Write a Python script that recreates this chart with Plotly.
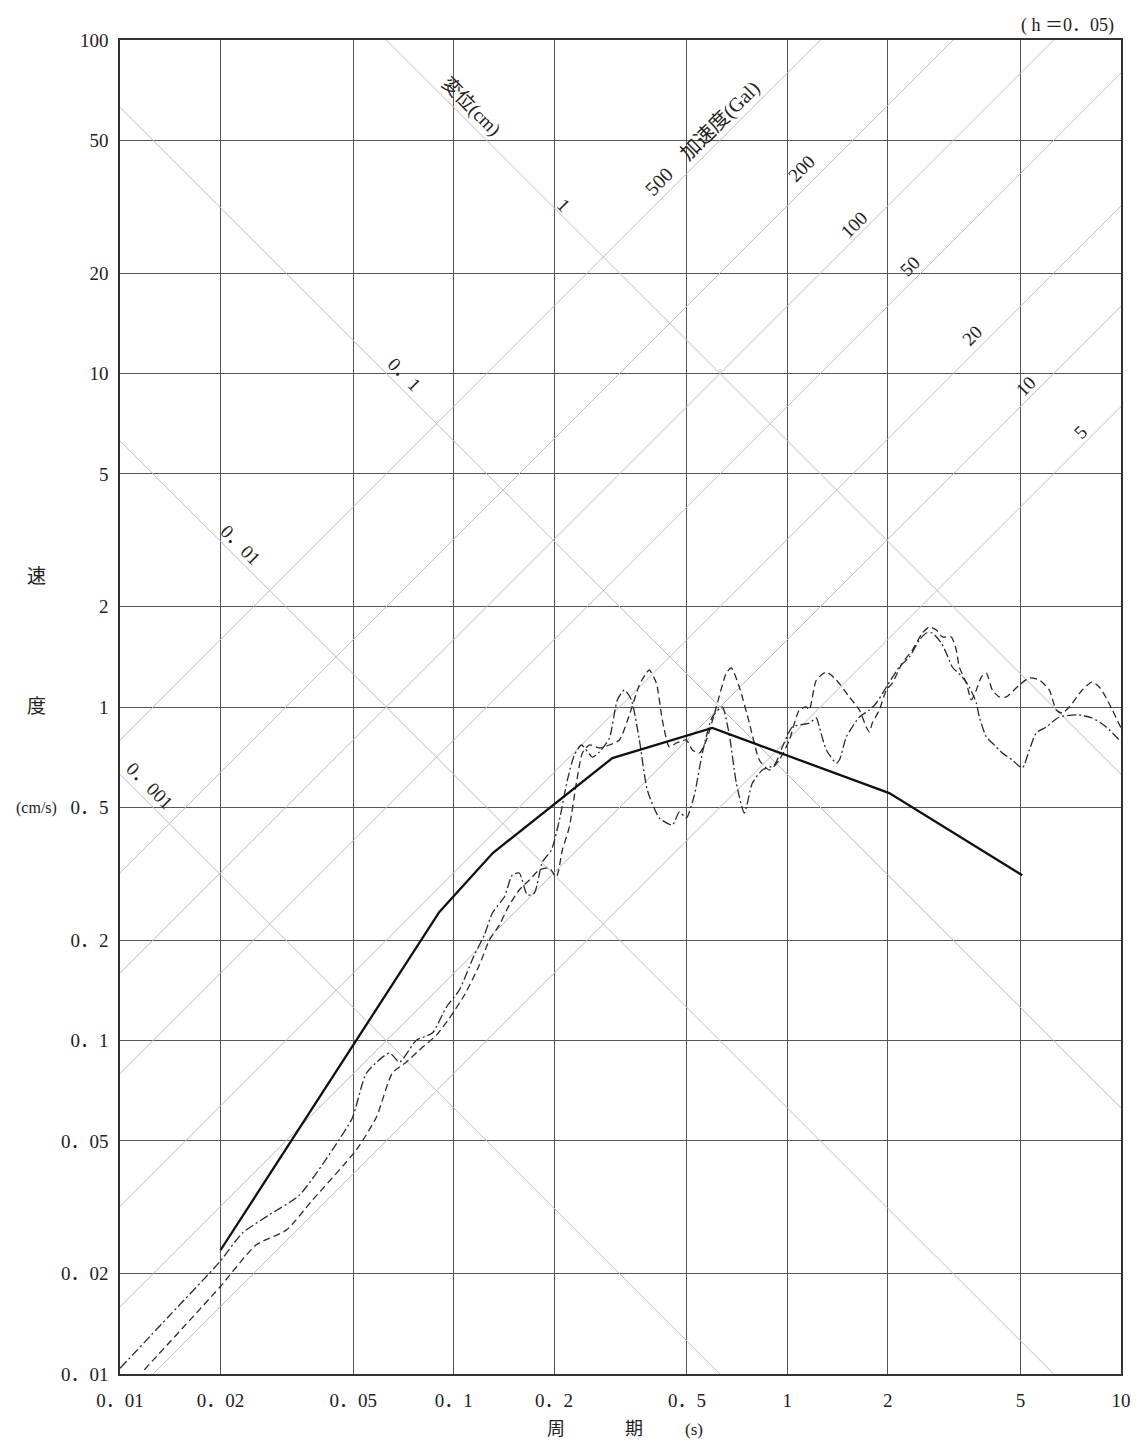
import numpy as np
import plotly.graph_objects as go

# ---------------- data ----------------
# design (target) spectrum, solid line
design_T = [0.02, 0.0906, 0.131, 0.299, 0.596, 2.02, 5.06]
design_V = [0.0235, 0.243, 0.365, 0.703, 0.865, 0.552, 0.313]

# observed spectrum 1 (dash-dot)
dd_T = [0.0100, 0.0141, 0.0199, 0.0233, 0.0280, 0.0345, 0.0433, 0.0497, 0.0548, 0.0642,
        0.0688, 0.0773, 0.0863, 0.0951, 0.1040, 0.1153, 0.1236, 0.1306, 0.1418, 0.1499,
        0.1573, 0.1663, 0.1745, 0.1844, 0.1963, 0.2074, 0.2192, 0.2300, 0.2414, 0.2604,
        0.2733, 0.2929, 0.3095, 0.3247, 0.3409, 0.3602, 0.3805, 0.4135, 0.4523, 0.4747,
        0.4982, 0.5265, 0.5563, 0.5958, 0.6384, 0.6701, 0.7033, 0.7435, 0.7857, 0.8416,
        0.9142, 0.9661, 1.035, 1.164, 1.222, 1.247, 1.309, 1.402, 1.432, 1.502,
        1.566, 1.644, 1.761, 1.848, 1.981, 2.166, 2.321, 2.487, 2.610, 2.720,
        2.894, 2.995, 3.122, 3.345, 3.511, 3.685, 3.762, 3.948, 4.115, 4.409,
        4.723, 5.061, 5.311, 5.574, 5.971, 6.532, 7.499, 8.204, 9.035, 10.0]
dd_V = [0.0104, 0.0150, 0.0217, 0.0265, 0.0300, 0.0344, 0.0470, 0.0586, 0.0799, 0.0917,
        0.0862, 0.1002, 0.1053, 0.1260, 0.1417, 0.1805, 0.2071, 0.2411, 0.2693, 0.3134,
        0.3178, 0.2730, 0.2769, 0.3428, 0.3726, 0.4581, 0.6039, 0.7178, 0.7691, 0.7079,
        0.7329, 0.8072, 1.050, 1.125, 1.050, 0.7962, 0.5637, 0.4647, 0.4427, 0.4844,
        0.4647, 0.5447, 0.7279, 0.9333, 1.000, 0.8241, 0.5916, 0.4808, 0.5916, 0.6471,
        0.6699, 0.7586, 0.8710, 0.8953, 0.9268, 0.8710, 0.7431, 0.6792, 0.6935, 0.8128,
        0.8710, 0.9333, 0.9795, 1.028, 1.148, 1.318, 1.412, 1.588, 1.667, 1.667,
        1.556, 1.452, 1.318, 1.230, 1.148, 1.028, 0.9333, 0.8128, 0.7798, 0.7279,
        0.6935, 0.6561, 0.7431, 0.8356, 0.8710, 0.9333, 0.9463, 0.9268, 0.8710, 0.7852]

# observed spectrum 2 (dashed)
da_T = [0.01183, 0.0199, 0.0256, 0.0315, 0.0377, 0.0511, 0.0587, 0.0655, 0.0722, 0.0789,
        0.0888, 0.0971, 0.1077, 0.1194, 0.1279, 0.1370, 0.1468, 0.1573, 0.1686, 0.1806,
        0.1935, 0.2032, 0.2117, 0.2222, 0.2332, 0.2431, 0.2551, 0.2733, 0.2929, 0.3138,
        0.3362, 0.3602, 0.3779, 0.3858, 0.4050, 0.4221, 0.4430, 0.4650, 0.4982, 0.5193,
        0.5450, 0.5721, 0.6125, 0.6563, 0.6794, 0.7180, 0.7696, 0.8243, 0.8833, 0.9463,
        1.014, 1.086, 1.140, 1.164, 1.222, 1.309, 1.402, 1.534, 1.644, 1.724,
        1.761, 1.797, 1.887, 1.981, 2.064, 2.211, 2.370, 2.539, 2.665, 2.796,
        2.914, 3.100, 3.209, 3.276, 3.439, 3.560, 3.685, 3.814, 3.948, 4.115,
        4.318, 4.532, 4.957, 5.311, 5.690, 6.096, 6.398, 6.669, 7.000, 7.656,
        8.204, 8.610, 9.035, 10.0]
da_V = [0.0103, 0.0182, 0.0244, 0.0270, 0.0332, 0.0470, 0.0590, 0.0799, 0.0862, 0.0936,
        0.1038, 0.1167, 0.1369, 0.1683, 0.2000, 0.2219, 0.2548, 0.2827, 0.3029, 0.3246,
        0.3291, 0.3091, 0.3726, 0.4368, 0.5916, 0.7279, 0.7691, 0.7535, 0.7691, 0.7962,
        0.9463, 1.164, 1.264, 1.291, 1.180, 0.9141, 0.7586, 0.7798, 0.7962, 0.7431,
        0.7279, 0.7962, 1.000, 1.264, 1.309, 1.148, 0.8953, 0.6935, 0.6471, 0.6935,
        0.7962, 0.9795, 1.000, 0.9795, 1.205, 1.273, 1.205, 1.072, 0.9795, 0.8710,
        0.8414, 0.8953, 0.9795, 1.125, 1.180, 1.355, 1.482, 1.667, 1.738, 1.702,
        1.622, 1.622, 1.482, 1.318, 1.180, 1.050, 1.125, 1.230, 1.264, 1.125,
        1.072, 1.072, 1.164, 1.222, 1.205, 1.125, 0.9795, 0.9594, 1.000, 1.125,
        1.189, 1.148, 1.064, 0.8650]

# tripartite reference lines
disp_levels_cm = [0.001, 0.01, 0.1, 1]
acc_levels_gal = [5, 10, 20, 50, 100, 200, 500]

# axis ticks
x_ticks = [0.01, 0.02, 0.05, 0.1, 0.2, 0.5, 1, 2, 5, 10]
x_ticktext = ["0．01", "0．02", "0．05", "0．1", "0．2", "0．5", "1", "2", "5", "10"]
y_ticks = [0.01, 0.02, 0.05, 0.1, 0.2, 0.5, 1, 2, 5, 10, 20, 50, 100]
y_ticktext = ["0．01", "0．02", "0．05", "0．1", "0．2", "0．5", "1", "2", "5", "10", "20", "50", "100"]

# label positions (period, velocity)
disp_labels = [("変位(cm)", 0.1130, 63.0), ("1", 0.2147, 32.0), ("0．1", 0.0712, 9.90),
               ("0．01", 0.0231, 3.06), ("0．001", 0.01225, 0.580)]
acc_labels = [("500　加速度(Gal)", 0.556, 50.8), ("200", 1.101, 41.3), ("100", 1.588, 27.9),
              ("50", 2.321, 21.0), ("20", 3.584, 12.96), ("10", 5.167, 9.17), ("5", 7.603, 6.68)]

FONT = "Liberation Serif, Noto Sans CJK JP, serif"
GRID = "#555555"
DIAG = "#bdbdbd"
PAGE_OFF = 8  # browser body margin on every side

fig = go.Figure()

T_end = np.array([0.01, 10.0])
for d in disp_levels_cm:
    fig.add_trace(go.Scatter(x=T_end, y=2 * np.pi * d / T_end, mode="lines",
                             line=dict(color=DIAG, width=1), hoverinfo="skip", showlegend=False))
for a in acc_levels_gal:
    fig.add_trace(go.Scatter(x=T_end, y=a * T_end / (2 * np.pi), mode="lines",
                             line=dict(color=DIAG, width=1), hoverinfo="skip", showlegend=False))

fig.add_trace(go.Scatter(x=dd_T, y=dd_V, mode="lines", showlegend=False,
                         line=dict(color="#2a2a2a", width=1.3, dash="9px,3px,2px,3px",
                                   shape="spline", smoothing=0.6)))
fig.add_trace(go.Scatter(x=da_T, y=da_V, mode="lines", showlegend=False,
                         line=dict(color="#2a2a2a", width=1.3, dash="7px,4px",
                                   shape="spline", smoothing=0.6)))
fig.add_trace(go.Scatter(x=design_T, y=design_V, mode="lines", showlegend=False,
                         line=dict(color="#111111", width=2.3)))

ann = []
for txt, t, v in disp_labels:
    ann.append(dict(x=np.log10(t), y=np.log10(v), xref="x", yref="y", text=txt, showarrow=False,
                    textangle=45, xanchor="center", yanchor="middle",
                    font=dict(family=FONT, size=19, color="#222")))
for txt, t, v in acc_labels:
    ann.append(dict(x=np.log10(t), y=np.log10(v), xref="x", yref="y", text=txt, showarrow=False,
                    textangle=-45, xanchor="center", yanchor="middle",
                    font=dict(family=FONT, size=20 if len(txt) > 4 else 19, color="#222")))


def px_x(px):
    return (px - 120) / 1001.0


def px_y(py):
    return (1374 - py) / 1334.0


def lab(text, px, py, size, xanchor="center"):
    return dict(x=px_x(px), y=px_y(py), xref="paper", yref="paper", text=text, showarrow=False,
                xanchor=xanchor, yanchor="middle", font=dict(family=FONT, size=size, color="#222"))


ann += [
    lab("( h ＝0．05)", 1116, 25, 18, xanchor="right"),
    lab("速", 36, 576, 19),
    lab("度", 36, 706, 19),
    lab("(cm/s)", 36, 808, 16),
    lab("周", 556, 1429, 18),
    lab("期", 634, 1429, 18),
    lab("(s)", 694, 1429, 17),
]

W = 1139 - 2 * PAGE_OFF
H = 1450 - 2 * PAGE_OFF
fig.update_layout(
    width=W, height=H,
    margin=dict(l=120 - PAGE_OFF, r=PAGE_OFF + W - 1121, t=40 - PAGE_OFF, b=PAGE_OFF + H - 1374),
    paper_bgcolor="white", plot_bgcolor="white",
    annotations=ann,
    xaxis=dict(type="log", range=[-2, 1], tickvals=x_ticks, ticktext=x_ticktext,
               showgrid=True, gridcolor=GRID, gridwidth=1, zeroline=False,
               showline=True, linecolor="#333", linewidth=1.6, mirror=True,
               ticks="", ticklabelstandoff=8, automargin=False,
               tickfont=dict(family=FONT, size=19, color="#222")),
    yaxis=dict(type="log", range=[-2, 2], tickvals=y_ticks, ticktext=y_ticktext,
               showgrid=True, gridcolor=GRID, gridwidth=1, zeroline=False,
               showline=True, linecolor="#333", linewidth=1.6, mirror=True,
               ticks="", ticklabelstandoff=6, automargin=False,
               tickfont=dict(family=FONT, size=19, color="#222")),
)

fig.write_html("out.html")
